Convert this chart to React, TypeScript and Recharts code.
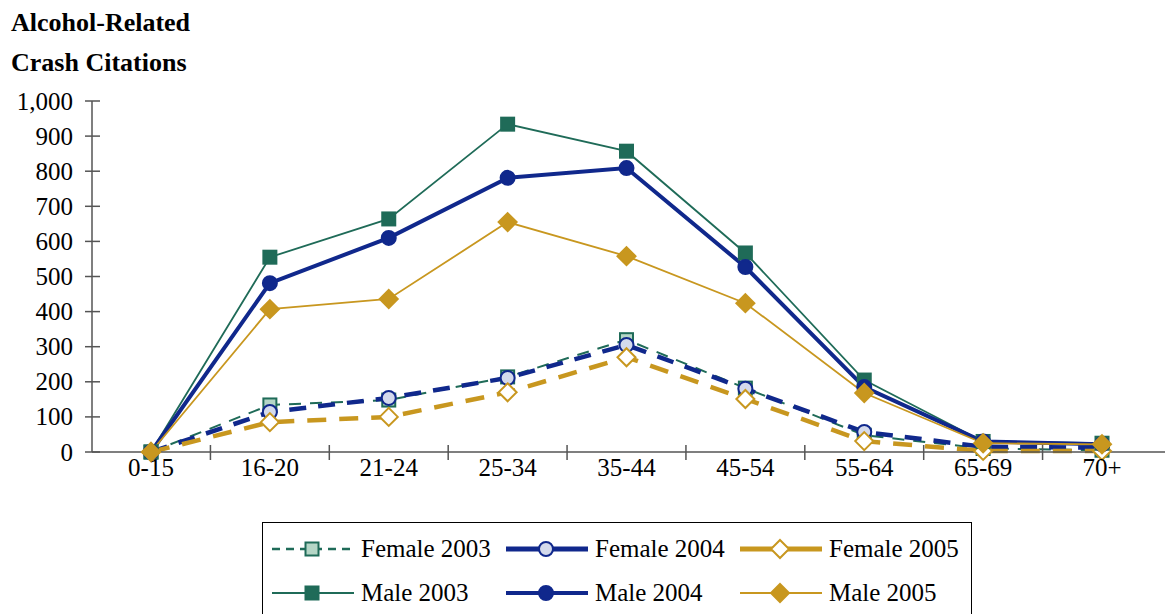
import { LineChart, Line, XAxis, YAxis } from "recharts";

const ageGroups = ["0-15", "16-20", "21-24", "25-34", "35-44", "45-54", "55-64", "65-69", "70+"];
const female2003 = [0, 134, 148, 214, 320, 182, 48, 10, 5];
const female2004 = [0, 114, 154, 211, 305, 180, 57, 15, 12];
const female2005 = [0, 85, 100, 170, 270, 151, 31, 3, 3];
const male2003 = [0, 555, 664, 934, 857, 567, 205, 30, 25];
const male2004 = [0, 481, 610, 781, 809, 527, 185, 30, 22];
const male2005 = [0, 407, 436, 655, 558, 424, 168, 25, 22];
const yTicks = [0, 100, 200, 300, 400, 500, 600, 700, 800, 900, 1000];
const boundaryTicks = [0.5, 1.5, 2.5, 3.5, 4.5, 5.5, 6.5, 7.5];

const data = ageGroups.map((age, i) => ({
  age,
  f2003: female2003[i],
  f2004: female2004[i],
  f2005: female2005[i],
  m2003: male2003[i],
  m2004: male2004[i],
  m2005: male2005[i],
}));

const GREEN = "#1f6b58";
const BLUE = "#10288c";
const GOLD = "#c8971f";
const FONT = "'Liberation Serif', 'Times New Roman', serif";
const xPad = { left: 59, right: 63 };

function square(fill: string, stroke: string, size: number) {
  return (p: any) => (
    <rect
      key={`sq-${p.index}`}
      x={p.cx - size / 2}
      y={p.cy - size / 2}
      width={size}
      height={size}
      fill={fill}
      stroke={stroke}
      strokeWidth={2}
    />
  );
}

function circle(fill: string, stroke: string, r: number) {
  return (p: any) => (
    <circle key={`ci-${p.index}`} cx={p.cx} cy={p.cy} r={r} fill={fill} stroke={stroke} strokeWidth={2} />
  );
}

function diamond(fill: string, stroke: string, r: number) {
  return (p: any) => (
    <polygon
      key={`di-${p.index}`}
      points={`${p.cx},${p.cy - r} ${p.cx + r},${p.cy} ${p.cx},${p.cy + r} ${p.cx - r},${p.cy}`}
      fill={fill}
      stroke={stroke}
      strokeWidth={2}
    />
  );
}

const YTick = ({ x, y, payload }: any) => (
  <g>
    <line x1={x - 7} x2={x + 8} y1={y} y2={y} stroke="#555" strokeWidth={1.5} />
    <text x={x - 19} y={y} textAnchor="end" dominantBaseline="central" fontSize={25} fontFamily={FONT} fill="#000">
      {payload.value.toLocaleString("en-US")}
    </text>
  </g>
);

const XLabel = ({ x, y, payload }: any) => (
  <text x={x} y={y + 15} textAnchor="middle" dominantBaseline="central" fontSize={25} fontFamily={FONT} fill="#000">
    {payload.value}
  </text>
);

const XMark = ({ x, y }: any) => <line x1={x} x2={x} y1={y - 8} y2={y + 7} stroke="#555" strokeWidth={1.5} />;

const legendItems = [
  { label: "Female 2003", color: GREEN, width: 2.5, dash: "8 6", marker: "sq", fill: "#b5d6c6" },
  { label: "Female 2004", color: BLUE, width: 5, dash: "", marker: "ci", fill: "#d4daec" },
  { label: "Female 2005", color: GOLD, width: 5, dash: "", marker: "di", fill: "#fff" },
  { label: "Male 2003", color: GREEN, width: 2, dash: "", marker: "sq", fill: GREEN },
  { label: "Male 2004", color: BLUE, width: 4, dash: "", marker: "ci", fill: BLUE },
  { label: "Male 2005", color: GOLD, width: 2, dash: "", marker: "di", fill: GOLD },
];

function LegendIcon({ item }: any) {
  const cx = 40;
  const cy = 11;
  let mark;
  if (item.marker === "sq") mark = square(item.fill, item.color, 13)({ cx, cy, index: 0 });
  else if (item.marker === "ci") mark = circle(item.fill, item.color, 7)({ cx, cy, index: 0 });
  else mark = diamond(item.fill, item.color, 9)({ cx, cy, index: 0 });
  return (
    <svg width={82} height={22} style={{ display: "block", flex: "none" }}>
      <line x1={0} x2={82} y1={cy} y2={cy} stroke={item.color} strokeWidth={item.width} strokeDasharray={item.dash || undefined} />
      {mark}
    </svg>
  );
}

function ChartLegend() {
  return (
    <div
      style={{
        position: "absolute",
        left: 262,
        top: 522,
        width: 710,
        height: 110,
        border: "1.5px solid #000",
        boxSizing: "border-box",
        display: "grid",
        gridTemplateColumns: "234px 234px 228px",
        gridAutoRows: "44px",
        paddingLeft: 9,
        paddingTop: 4,
        fontFamily: FONT,
        fontSize: 25,
        color: "#000",
      }}
    >
      {legendItems.map((item) => (
        <div key={item.label} style={{ display: "flex", alignItems: "center", gap: 7 }}>
          <LegendIcon item={item} />
          <span style={{ whiteSpace: "nowrap" }}>{item.label}</span>
        </div>
      ))}
    </div>
  );
}

export default function App() {
  return (
    <div style={{ position: "absolute", left: 0, top: 0, width: 1167, height: 614, background: "#fff", overflow: "hidden" }}>
      <div style={{ position: "absolute", left: 11, top: 10, fontFamily: FONT, fontWeight: "bold", fontSize: 26, lineHeight: "26px" }}>
        Alcohol-Related
      </div>
      <div style={{ position: "absolute", left: 11, top: 50, fontFamily: FONT, fontWeight: "bold", fontSize: 26, lineHeight: "26px" }}>
        Crash Citations
      </div>
      <LineChart width={1167} height={614} data={data} margin={{ top: 101, right: 2, left: 0, bottom: 160 }}>
        <XAxis
          dataKey="age"
          height={1}
          padding={xPad}
          tickSize={0}
          tickMargin={0}
          tickLine={false}
          axisLine={{ stroke: "#555", strokeWidth: 1.5 }}
          tick={<XLabel />}
          interval={0}
        />
        <XAxis
          xAxisId="marks"
          type="number"
          domain={[0, 8]}
          allowDataOverflow
          padding={xPad}
          ticks={boundaryTicks}
          height={1}
          tickSize={0}
          tickMargin={0}
          tickLine={false}
          axisLine={false}
          tick={<XMark />}
          interval={0}
        />
        <YAxis
          width={92}
          domain={[0, 1000]}
          ticks={yTicks}
          interval={0}
          tickSize={0}
          tickMargin={0}
          tickLine={false}
          axisLine={{ stroke: "#555", strokeWidth: 1.5 }}
          tick={<YTick />}
        />
        <Line dataKey="f2003" name="Female 2003" stroke={GREEN} strokeWidth={2} strokeDasharray="12 9" dot={square("#b5d6c6", GREEN, 13)} isAnimationActive={false} />
        <Line dataKey="f2004" name="Female 2004" stroke={BLUE} strokeWidth={4.5} strokeDasharray="17 12" dot={circle("#d4daec", BLUE, 7)} isAnimationActive={false} />
        <Line dataKey="f2005" name="Female 2005" stroke={GOLD} strokeWidth={4.5} strokeDasharray="19 13" dot={diamond("#fff", GOLD, 9)} isAnimationActive={false} />
        <Line dataKey="m2003" name="Male 2003" stroke={GREEN} strokeWidth={1.8} dot={square(GREEN, GREEN, 13)} isAnimationActive={false} />
        <Line dataKey="m2004" name="Male 2004" stroke={BLUE} strokeWidth={4} dot={circle(BLUE, BLUE, 7)} isAnimationActive={false} />
        <Line dataKey="m2005" name="Male 2005" stroke={GOLD} strokeWidth={1.8} dot={diamond(GOLD, GOLD, 9)} isAnimationActive={false} />
      </LineChart>
      <ChartLegend />
    </div>
  );
}
